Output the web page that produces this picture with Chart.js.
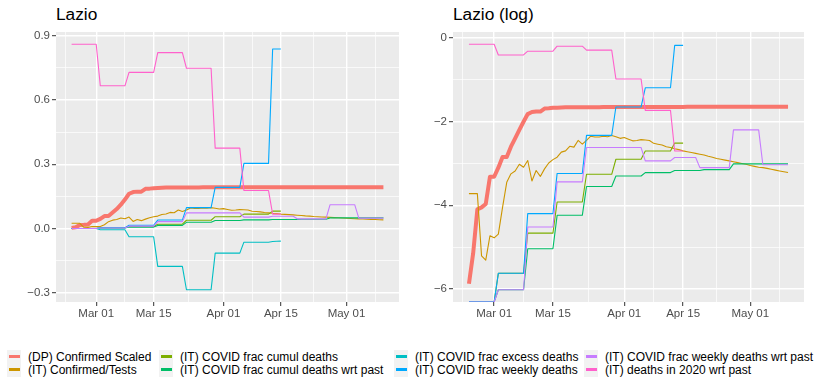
<!DOCTYPE html>
<html><head><meta charset="utf-8">
<script src="https://cdn.jsdelivr.net/npm/chart.js@4"></script>
<style>
html,body{margin:0;padding:0;background:#fff;}
body{width:814px;height:380px;position:relative;overflow:hidden;font-family:"Liberation Sans",Arial,sans-serif;}
.title{position:absolute;font-size:17.3px;line-height:17.3px;color:#000;white-space:nowrap;}
canvas{position:absolute;top:0;}
.lg-key{position:absolute;width:14px;height:13.5px;background:#F2F2F2;}
.lg-key span{position:absolute;left:1.5px;right:1.5px;top:5.2px;height:3px;}
.lg-txt{position:absolute;font-size:12px;line-height:12px;white-space:nowrap;color:#000;}
</style></head>
<body>
<div class="title" style="left:56px;top:6px">Lazio</div>
<div class="title" style="left:453px;top:6px">Lazio (log)</div>
<canvas id="c1" width="405" height="330" style="left:0;width:405px;height:330px"></canvas>
<canvas id="c2" width="409" height="330" style="left:405px;width:409px;height:330px"></canvas>
<div id="legend"></div>
<script>
// ---------- DATA ----------
const firstDate = '2020-02-24';           // first day of the series (daily data)
const seriesNames = [
  '(DP) Confirmed Scaled',
  '(IT) Confirmed/Tests',
  '(IT) COVID frac cumul deaths',
  '(IT) COVID frac cumul deaths wrt past',
  '(IT) COVID frac excess deaths',
  '(IT) COVID frac weekly deaths',
  '(IT) COVID frac weekly deaths wrt past',
  '(IT) deaths in 2020 wrt past'
];
const seriesColors = ['#F8766D','#CD9600','#7CAE00','#00BE67','#00BFC4','#00A9FF','#C77CFF','#FF61CC'];

const confirmedScaled = [0.0028,0.0058,0.0166,0.0174,0.0189,0.0362,0.0362,0.045,0.058,0.058,0.0743,0.0907,0.111,0.135,0.162,0.170,0.172,0.172,0.185,0.186,0.188,0.189,0.190,
  0.191,0.191,0.191,0.191,0.191,0.191,0.191,0.191,0.191,
  0.192,0.192,0.192,0.192,0.192,0.192,0.192,0.192,0.192,0.192,0.192,0.192,0.192,0.192,0.192,0.192,0.192,0.192,0.192,0.192,
  0.193,0.193,0.193,0.193,0.193,0.193,0.193,0.193,0.193,0.193,0.193,0.193,0.193,0.193,0.193,0.193,0.193,0.193,0.193,0.193,0.193,0.193,0.193,0.193,0.193];
const confirmedTests = [0.0242,0.0242,0.0242,0.00546,0.00494,0.00883,0.0084,0.0092,0.0174,0.0317,0.0388,0.0416,0.0488,0.0455,0.0534,0.0327,0.042,0.0365,0.0437,0.0503,0.0545,0.0578,0.0652,0.0672,0.075,0.0735,0.0863,0.0789,0.0863,0.0954,0.0935,0.0935,0.0954,0.0944,0.0973,0.0944,0.0907,0.0926,0.0889,0.0854,0.0863,0.088,0.0872,0.0863,0.0805,0.0789,0.0773,0.0743,0.0728,0.0707,0.0693,0.0672,0.0659,0.0646,0.0633,0.062,0.0608,0.059,0.0578,0.0561,0.055,0.0539,0.0529,0.0518,0.0508,0.0498,0.0488,0.0474,0.0464,0.0455,0.045,0.0442,0.0433,0.0424,0.0416,0.0408,0.040];
const cumulDeaths = [0,0,0,0,0,0,0, 0.0036,0.0036,0.0036,0.0036,0.0036,0.0036,0.0036, 0.0094,0.0094,0.0094,0.0094,0.0094,0.0094,0.0094, 0.0198,0.0198,0.0198,0.0198,0.0198,0.0198,0.0198, 0.0384,0.0384,0.0384,0.0384,0.0384,0.0384,0.0384, 0.055,0.055,0.055,0.055,0.055,0.055,0.055, 0.067,0.067,0.067,0.067,0.067,0.067,0.067, 0.081,0.081,0.081];
const cumulDeathsWrtPast = [0,0,0,0,0,0,0, 0.00243,0.00243,0.00243,0.00243,0.00243,0.00243,0.00243, 0.00647,0.00647,0.00647,0.00647,0.00647,0.00647,0.00647, 0.0144,0.0144,0.0144,0.0144,0.0144,0.0144,0.0144, 0.0287,0.0287,0.0287,0.0287,0.0287,0.0287,0.0287, 0.0369,0.0369,0.0369,0.0369,0.0369,0.0369,0.0369, 0.040,0.040,0.040,0.040,0.040,0.040,0.040, 0.042,0.042,0.042,0.042,0.042,0.042,0.042, 0.0429,0.0429,0.0429,0.0429,0.0429,0.0429,0.0429, 0.0493,0.0493,0.0493,0.0493,0.0493,0.0493,0.0493,0.0493,0.0493,0.0493,0.0493,0.0493,0.0493,0.0493];
const excessDeaths = [0,0,0,0,0,0,0, -0.006,-0.006,-0.006,-0.006,-0.006,-0.006,-0.006, -0.039,-0.039,-0.039,-0.039,-0.039,-0.039,-0.039, -0.177,-0.177,-0.177,-0.177,-0.177,-0.177,-0.177, -0.286,-0.286,-0.286,-0.286,-0.286,-0.286,-0.286, -0.115,-0.115,-0.115,-0.115,-0.115,-0.115,-0.115, -0.064,-0.064,-0.064,-0.064,-0.064,-0.064,-0.064, -0.061,-0.060,-0.059];
const weeklyDeaths = [0,0,0,0,0,0,0, 0.0036,0.0036,0.0036,0.0036,0.0036,0.0036,0.0036, 0.015,0.015,0.015,0.015,0.015,0.015,0.015, 0.0392,0.0392,0.0392,0.0392,0.0392,0.0392,0.0392, 0.0973,0.0973,0.0973,0.0973,0.0973,0.0973,0.0973, 0.192,0.192,0.192,0.192,0.192,0.192,0.192, 0.304,0.304,0.304,0.304,0.304,0.304,0.304, 0.838,0.838,0.838];
const weeklyDeathsWrtPast = [0,0,0,0,0,0,0, 0.00243,0.00243,0.00243,0.00243,0.00243,0.00243,0.00243, 0.0109,0.0109,0.0109,0.0109,0.0109,0.0109,0.0109, 0.032,0.032,0.032,0.032,0.032,0.032,0.032, 0.0728,0.0728,0.0728,0.0728,0.0728,0.0728,0.0728,0.0728,0.0728,0.0728,0.0728,0.0728,0.0728,0.0728, 0.0529,0.0529,0.0529,0.0529,0.0529,0.0529,0.0529, 0.0573,0.0573,0.0573,0.0573,0.0573,0.0573, 0.045,0.045,0.045,0.045,0.045,0.045,0.045,0.045, 0.111,0.111,0.111,0.111,0.111,0.111,0.111, 0.0483,0.0483,0.0483,0.0483,0.0483,0.0483,0.0483];
const deaths2020WrtPast = [0.86,0.86,0.86,0.86,0.86,0.86,0.86, 0.666,0.666,0.666,0.666,0.666,0.666,0.666, 0.729,0.729,0.729,0.729,0.729,0.729,0.729, 0.821,0.821,0.821,0.821,0.821,0.821,0.821, 0.748,0.748,0.748,0.748,0.748,0.748,0.748, 0.375,0.375,0.375,0.375,0.375,0.375,0.375, 0.177,0.177,0.177,0.177,0.177,0.177,0.177, 0.067,0.067,0.067];

const seriesValues = [confirmedScaled, confirmedTests, cumulDeaths, cumulDeathsWrtPast, excessDeaths, weeklyDeaths, weeklyDeathsWrtPast, deaths2020WrtPast];
const seriesWidths = [4, 1.1, 1.1, 1.1, 1.1, 1.1, 1.1, 1.1];

const majorTickDates = ['2020-03-01','2020-03-15','2020-04-01','2020-04-15','2020-05-01'];
const majorTickLabels = ['Mar 01','Mar 15','Apr 01','Apr 15','May 01'];
const outerBreakDates = ['2020-02-15','2020-05-15'];   // breaks outside the panel (for minor grid)
const linYTicks = [-0.3, 0, 0.3, 0.6, 0.9];
const logYTicks = [-6, -4, -2, 0];

// ---------- HELPERS ----------
const DAY = 864e5;
const ref = Date.parse('2020-03-01T00:00:00Z');
const dayNum = s => (Date.parse(s + 'T00:00:00Z') - ref) / DAY;
const start = dayNum(firstDate);
const nDays = confirmedScaled.length;
const xs = Array.from({length: nDays}, (_, i) => start + i);

const majorX = majorTickDates.map(dayNum);
const allBreaks = [dayNum(outerBreakDates[0]), ...majorX, dayNum(outerBreakDates[1])];
const minorX = [];
for (let i = 0; i < allBreaks.length - 1; i++) minorX.push((allBreaks[i] + allBreaks[i+1]) / 2);
const xTickVals = [...majorX, ...minorX].sort((a,b)=>a-b);

const xMin0 = xs[0], xMax0 = xs[xs.length-1];
const xPad = 0.05 * (xMax0 - xMin0);
const xMin = xMin0 - xPad, xMax = xMax0 + xPad;

const minus = s => s.replace('-', '\u2212');
const isMajorX = v => majorX.some(m => Math.abs(m - v) < 1e-6);

// linear range
let lo = Infinity, hi = -Infinity;
seriesValues.forEach(a => a.forEach(v => { if (v < lo) lo = v; if (v > hi) hi = v; }));
const yPad = 0.05 * (hi - lo);
const yMin1 = lo - yPad, yMax1 = hi + yPad;
// log range (finite values only)
let llo = Infinity, lhi = -Infinity;
seriesValues.forEach(a => a.forEach(v => { if (v > 0) { const l = Math.log(v); if (l < llo) llo = l; if (l > lhi) lhi = l; } }));
const lPad = 0.05 * (lhi - llo);
const yMin2 = llo - lPad, yMax2 = lhi + lPad;

function gridTicks(majors, step) {
  const vals = [];
  majors.forEach(m => vals.push(m));
  for (let i = 0; i < majors.length - 1; i++) vals.push((majors[i] + majors[i+1]) / 2);
  return vals.sort((a,b)=>a-b);
}

const bgPlugin = {
  id: 'panelBg',
  beforeDraw(chart) {
    const {ctx, chartArea: a} = chart;
    ctx.save(); ctx.fillStyle = '#EBEBEB';
    ctx.fillRect(a.left, a.top, a.right - a.left, a.bottom - a.top);
    ctx.restore();
  }
};

function makeChart(id, isLog, yMin, yMax, yMajors, yWidth, padRight) {
  const datasets = seriesValues.map((vals, si) => {
    const pts = [];
    vals.forEach((v, i) => {
      let y;
      if (!isLog) y = v;
      else if (v > 0) y = Math.log(v);
      else if (v === 0) y = yMin;      // -Inf is drawn at the panel edge
      else y = null;
      pts.push({x: xs[i], y});
    });
    return {
      label: seriesNames[si], data: pts, borderColor: seriesColors[si],
      borderWidth: seriesWidths[si], pointRadius: 0, tension: 0,
      borderJoinStyle: 'round', spanGaps: false, order: seriesValues.length - si
    };
  });
  const yMajorSet = yMajors;
  const isMajorY = v => yMajorSet.some(m => Math.abs(m - v) < 1e-9);
  const yTickVals = gridTicks(yMajors);
  return new Chart(document.getElementById(id), {
    type: 'line',
    data: {datasets},
    plugins: [bgPlugin],
    options: {
      responsive: false, animation: false, events: [],
      layout: {padding: {left: 0, right: padRight, top: 32, bottom: 0}},
      plugins: {legend: {display: false}, title: {display: false}, tooltip: {enabled: false}},
      scales: {
        x: {
          type: 'linear', min: xMin, max: xMax,
          afterBuildTicks: ax => { ax.ticks = xTickVals.map(v => ({value: v})); },
          afterFit: s => { s.height = 28; },
          border: {display: false},
          grid: {
            color: '#FFFFFF',
            lineWidth: c => (c.tick && isMajorX(c.tick.value)) ? 1.4 : 0.7,
            tickLength: 4,
            tickColor: c => (c.tick && isMajorX(c.tick.value)) ? '#333333' : 'rgba(0,0,0,0)',
            tickWidth: 1
          },
          ticks: {
            autoSkip: false, maxRotation: 0, minRotation: 0, padding: 1,
            color: '#4D4D4D', font: {family: 'Liberation Sans', size: 11.5},
            callback: v => { const k = majorX.findIndex(m => Math.abs(m - v) < 1e-6); return k >= 0 ? majorTickLabels[k] : ''; }
          }
        },
        y: {
          type: 'linear', min: yMin, max: yMax,
          afterBuildTicks: ax => { ax.ticks = yTickVals.map(v => ({value: v})); },
          afterFit: s => { s.width = yWidth; },
          border: {display: false},
          grid: {
            color: '#FFFFFF',
            lineWidth: c => (c.tick && isMajorY(c.tick.value)) ? 1.4 : 0.7,
            tickLength: 4,
            tickColor: c => (c.tick && isMajorY(c.tick.value)) ? '#333333' : 'rgba(0,0,0,0)',
            tickWidth: 1
          },
          ticks: {
            autoSkip: false, padding: 2,
            color: '#4D4D4D', font: {family: 'Liberation Sans', size: 11.5},
            callback: v => isMajorY(v) ? minus(isLog ? String(Math.round(v)) : v.toFixed(1)) : ''
          }
        }
      }
    }
  });
}

makeChart('c1', false, yMin1, yMax1, linYTicks, 56, 6);
makeChart('c2', true, yMin2, yMax2, logYTicks, 48, 10);

// ---------- LEGEND ----------
const legendTextLeft = [28, 180, 415, 605];
const legendRowTop = [350.5, 363.8];
const lg = document.getElementById('legend');
seriesNames.forEach((name, i) => {
  const col = Math.floor(i / 2), row = i % 2;
  const k = document.createElement('div');
  k.className = 'lg-key';
  k.style.left = (legendTextLeft[col] - 21) + 'px';
  k.style.top = (legendRowTop[row] - 0.7) + 'px';
  const sp = document.createElement('span'); sp.style.background = seriesColors[i];
  k.appendChild(sp); lg.appendChild(k);
  const t = document.createElement('div');
  t.className = 'lg-txt'; t.textContent = name;
  t.style.left = legendTextLeft[col] + 'px'; t.style.top = legendRowTop[row] + 'px';
  lg.appendChild(t);
});
</script>
</body></html>
